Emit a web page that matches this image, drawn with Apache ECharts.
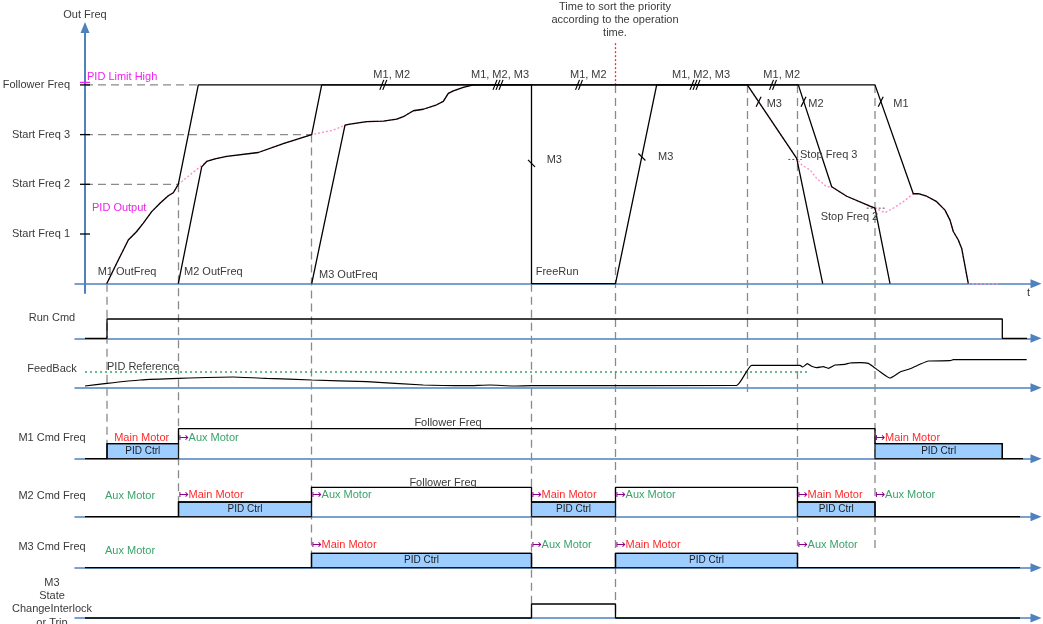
<!DOCTYPE html>
<html>
<head>
<meta charset="utf-8">
<title>Multi-motor PID timing</title>
<script src="https://cdn.jsdelivr.net/npm/echarts@6.0.0/dist/echarts.min.js"></script>
<style>
html, body { margin: 0; padding: 0; background: #fff; }
#chart { width: 1043px; height: 624px; }
</style>
</head>
<body>
<div id="chart"></div>
<script>
// ---- data: time in ticks, frequency in steps of Start Freq 1 ----
const freqLevels = [1, 2, 3, 4];
const freqNames = ['Start Freq 1', 'Start Freq 2', 'Start Freq 3', 'Follower Freq'];
const rowNames = ['Run Cmd', 'FeedBack', 'M1 Cmd Freq', 'M2 Cmd Freq', 'M3 Cmd Freq', 'M3\nState\nChangeInterlock\nor Trip'];

// event times
const tM1On = 22, tM2On = 93.5, tM3On = 226.5, tTrip = 446.5, tSort = 530.5;
const tM3Off = 662.5, tM2Off = 712.5, tM1Off = 790, tRunOff = 917.3;

const pidLimitHigh = 4.05, stopFreq3 = 2.5, stopFreq2 = 1.52, pidReference = 5.23;

// output frequency of each motor
const m1Out = [[21.7, 0], [31.7, 0.41], [43.3, 0.88], [51.7, 1.05], [58.3, 1.22], [66.7, 1.45], [75, 1.62], [83.3, 1.77], [88.3, 1.83], [93.3, 2.0],
  [113.3, 4.0], [790, 4.0], [828.3, 1.81], [833.3, 1.81], [841.7, 1.76], [851.7, 1.65], [860, 1.48], [865, 1.28], [868.3, 1.05], [873.3, 0.88], [876.7, 0.71], [883.3, 0]];
const m2Out = [[93.3, 0], [116.7, 2.35], [121.7, 2.46], [130, 2.51], [141.7, 2.56], [173.3, 2.64], [198.3, 2.82], [226.7, 3.0], [236.7, 4.0],
  [713.3, 4.0], [746.7, 1.95], [761.7, 1.76], [785, 1.56], [790, 1.52], [805, 0]];
const m3Out = [[226.7, 0], [260, 3.19], [265, 3.21], [281.7, 3.26], [298.3, 3.27], [311.7, 3.31], [318.3, 3.36], [328.3, 3.48], [338.3, 3.51], [351.7, 3.6],
  [358.3, 3.67], [363.3, 3.83], [368.3, 3.88], [378.3, 3.95], [388.3, 4.0], [446.5, 4.0], [446.5, 0], [530.5, 0], [571.7, 4.0], [662.3, 4.0], [711.7, 2.52], [737.7, 0]];
const pidOut = [[21.7, 0], [31.7, 0.41], [43.3, 0.88], [51.7, 1.05], [58.3, 1.22], [66.7, 1.45], [75, 1.62], [83.3, 1.77], [88.3, 1.83], [93.3, 2.0],
  [121.7, 2.46], [130, 2.51], [141.7, 2.56], [173.3, 2.64], [198.3, 2.82], [226.7, 3.0], [248.3, 3.09], [256.7, 3.16], [260, 3.19], [265, 3.21],
  [281.7, 3.26], [298.3, 3.27], [311.7, 3.31], [318.3, 3.36], [328.3, 3.48], [338.3, 3.51], [351.7, 3.6], [358.3, 3.67], [363.3, 3.83], [368.3, 3.88],
  [378.3, 3.95], [388.3, 4.0], [662.3, 4.0], [711.7, 2.52], [716.7, 2.39], [725, 2.29], [731.7, 2.12], [741.7, 1.95], [746.7, 1.95], [761.7, 1.76],
  [785, 1.56], [790, 1.52], [800, 1.43], [808.3, 1.52], [818.3, 1.65], [828.3, 1.81], [833.3, 1.81], [841.7, 1.76], [851.7, 1.65], [860, 1.48],
  [865, 1.28], [868.3, 1.05], [873.3, 0.88], [876.7, 0.71], [883.3, 0], [913.3, 0]];

// feedback signal
const feedback = [[0, 0.57], [22, 1.47], [55, 2.57], [93.7, 3.1], [148.3, 3.57], [181.7, 3.1], [226.7, 2.57], [281.7, 2.0], [338.3, 0.9], [381.7, 0.67],
  [405, 0.9], [428.3, 0.57], [446.5, 0.7], [651.7, 0.8], [666.7, 7.47], [715, 7.47], [717.7, 6.9], [722.3, 8.0], [726.7, 7.13], [731.7, 6.67],
  [738.3, 7.0], [743.3, 6.47], [750, 7.57], [760, 7.8], [765, 8.23], [775, 8.33], [783.3, 8.13], [788.3, 7.0], [795, 5.33], [805, 3.23],
  [815, 5.23], [825, 6.33], [835, 7.8], [843.3, 8.9], [865, 9.0], [868.3, 9.33], [941.7, 9.33]];

// digital / command rows: level 0 = off, 1 = PID ctrl, 2 = follower freq
const runTimes = [0, tM1On, tRunOff, 942];
const runLevels = [0, 1, 0];
const m1Times = [0, tM1On, tM2On, tM1Off, tRunOff, 938];
const m1Levels = [0, 1, 2, 1, 0];
const m2Times = [0, tM2On, tM3On, tTrip, tSort, tM2Off, tM1Off, 935];
const m2Levels = [0, 1, 2, 1, 2, 1, 0];
const m3Times = [0, tM3On, tTrip, tSort, tM2Off, 935];
const m3Levels = [0, 1, 0, 1, 0];
const tripTimes = [0, tTrip, tSort, 935];
const tripLevels = [0, 1, 0];

// ---- layout ----
const FONT = "'Liberation Sans', Arial, sans-serif";
const TEXT = '#3a3a3a', BLUE = '#4f81bd', GREY = '#8a8a8a', RED = '#ff2a2a', GREEN = '#3aa36b', PURPLE = '#8b008b', MAGENTA = '#ee22ee', PINK = '#ff8fc8';
const X_MIN = -10, X_MAX = 951;
const TOP = { axisY: 283.7, scale: 49.7, min: -0.187, max: 5.155 };
const ROWS = [
  { axisY: 338.3, scale: 19.3, max: 2, labelAt: 1.04 },
  { axisY: 387.7, scale: 3, max: 10, labelAt: 6.13 },
  { axisY: 458.7, scale: 15, max: 3, labelAt: 1.36 },
  { axisY: 516.7, scale: 14.7, max: 3, labelAt: 1.41 },
  { axisY: 567.7, scale: 14.4, max: 3, labelAt: 1.42 },
  { axisY: 618, scale: 14, max: 2, labelAt: 1.09 }
];
const H = 624;

// value in the top panel that lines up with a level of a lower row
const topF = (row, level) => (TOP.axisY - (ROWS[row].axisY - level * ROWS[row].scale)) / TOP.scale;

const grids = [{ left: 75, right: 7, top: TOP.axisY - TOP.max * TOP.scale, bottom: H - (TOP.axisY - TOP.min * TOP.scale), outerBoundsMode: 'none' }]
  .concat(ROWS.map(r => ({ left: 75, right: 7, top: r.axisY - r.max * r.scale, bottom: H - r.axisY, outerBoundsMode: 'none' })));

const xAxes = grids.map((g, i) => ({
  type: 'value', gridIndex: i, min: X_MIN, max: X_MAX,
  axisLine: { show: true, onZero: i === 0, symbol: ['none', 'triangle'], symbolSize: [9, 11], lineStyle: { color: BLUE, width: 1.5 } },
  axisTick: { show: false }, axisLabel: { show: false }, splitLine: { show: false }
}));

const yAxes = [{
  type: 'value', gridIndex: 0, min: TOP.min, max: TOP.max,
  name: 'Out Freq', nameLocation: 'end', nameGap: 7,
  nameTextStyle: { color: TEXT, fontSize: 11, fontFamily: FONT },
  axisLine: { show: true, onZero: true, symbol: ['none', 'triangle'], symbolSize: [9, 11], lineStyle: { color: BLUE, width: 2 } },
  axisTick: { show: false },
  axisLabel: { customValues: freqLevels, formatter: v => freqNames[freqLevels.indexOf(v)], margin: 5, color: TEXT, fontSize: 11, fontFamily: FONT },
  splitLine: { show: false }
}].concat(ROWS.map((r, i) => ({
  type: 'value', gridIndex: i + 1, min: 0, max: r.max,
  axisLine: { show: false }, axisTick: { show: false }, splitLine: { show: false },
  axisLabel: { customValues: [r.labelAt], formatter: () => rowNames[i], align: 'center', margin: 23, color: TEXT, fontSize: 11, fontFamily: FONT, lineHeight: 13.3 }
})));

// ---- helpers ----
function lineSeries(grid, data, color, width, dash, z) {
  return { type: 'line', xAxisIndex: grid, yAxisIndex: grid, data: data, showSymbol: false, silent: true, clip: false, z: z || 4,
    lineStyle: { color: color, width: width, type: dash || 'solid' } };
}

function stepData(times, levels) {
  const pts = [];
  levels.forEach((l, i) => { pts.push([times[i], l], [times[i + 1], l]); });
  return pts;
}

function segmentSeries(grid, segs, style, z) {
  return { type: 'custom', xAxisIndex: grid, yAxisIndex: grid, silent: true, clip: false, z: z || 2,
    data: segs,
    renderItem: (params, api) => {
      const s = segs[params.dataIndex];
      const a = api.coord([s[0], s[1]]), b = api.coord([s[2], s[3]]);
      return { type: 'line', shape: { x1: a[0], y1: a[1], x2: b[0], y2: b[1] }, style: Object.assign({ stroke: '#000', lineWidth: 1 }, style) };
    } };
}

function boxSeries(grid, times, levels) {
  const boxes = [];
  levels.forEach((l, i) => { if (l === 1) boxes.push([times[i], times[i + 1]]); });
  return { type: 'custom', xAxisIndex: grid, yAxisIndex: grid, silent: true, z: 3,
    data: boxes,
    renderItem: (params, api) => {
      const bx = boxes[params.dataIndex];
      const a = api.coord([bx[0], 1]), b = api.coord([bx[1], 0]);
      return { type: 'rect', shape: { x: a[0], y: a[1], width: b[0] - a[0], height: b[1] - a[1] },
        style: { fill: '#9dceff', stroke: '#1a1a1a', lineWidth: 1.3 },
        textContent: { style: { text: 'PID Ctrl', fill: '#1a1a1a', font: '10px ' + FONT } },
        textConfig: { position: 'inside' } };
    } };
}

function textSeries(grid, notes) {
  return { type: 'custom', xAxisIndex: grid, yAxisIndex: grid, silent: true, clip: false, z: 10,
    data: notes.map(n => [n[0], n[1]]),
    renderItem: (params, api) => {
      const n = notes[params.dataIndex];
      const p = api.coord([n[0], n[1]]);
      const o = n[3] || {};
      const style = { text: n[2], fill: o.color || TEXT, font: '11px ' + FONT, align: o.align || 'left', verticalAlign: 'middle', lineHeight: 13 };
      if (o.arrow) {
        style.text = '{a|\u21a6}{b|' + n[2] + '}';
        style.rich = { a: { fill: PURPLE, font: '12px "DejaVu Sans"' }, b: { fill: o.color, font: '11px ' + FONT } };
      }
      return { type: 'text', x: p[0], y: p[1], style: style };
    } };
}

const markKinds = { slash: [2, 5], back: [-3.5, 3.5], cross: [2.5, 5] };
function markSeries(grid, marks) {
  return { type: 'custom', xAxisIndex: grid, yAxisIndex: grid, silent: true, clip: false, z: 6,
    data: marks.map(m => [m[0], m[1]]),
    renderItem: (params, api) => {
      const m = marks[params.dataIndex];
      const p = api.coord([m[0], m[1]]);
      const k = markKinds[m[3]];
      const children = [];
      for (let i = 0; i < m[2]; i++) {
        const dx = (i - (m[2] - 1) / 2) * 3;
        children.push({ type: 'line', shape: { x1: p[0] + dx - k[0], y1: p[1] + k[1], x2: p[0] + dx + k[0], y2: p[1] - k[1] },
          style: { stroke: '#000', lineWidth: 1.2 } });
      }
      return { type: 'group', children: children };
    } };
}

// ---- annotations ----
const topNotes = [
  [2, 4.16, 'PID Limit High', { color: MAGENTA }],
  [7, 1.52, 'PID Output', { color: MAGENTA }],
  [12.7, 0.24, 'M1 OutFreq'],
  [99, 0.24, 'M2 OutFreq'],
  [234, 0.18, 'M3 OutFreq'],
  [450.7, 0.24, 'FreeRun'],
  [306.7, 4.19, 'M1, M2', { align: 'center' }],
  [415, 4.19, 'M1, M2, M3', { align: 'center' }],
  [503.3, 4.19, 'M1, M2', { align: 'center' }],
  [616, 4.19, 'M1, M2, M3', { align: 'center' }],
  [696.7, 4.19, 'M1, M2', { align: 'center' }],
  [461.7, 2.49, 'M3'],
  [573, 2.55, 'M3'],
  [681.7, 3.62, 'M3'],
  [723.3, 3.62, 'M2'],
  [808.3, 3.62, 'M1'],
  [715, 2.6, 'Stop Freq 3'],
  [735.7, 1.35, 'Stop Freq 2'],
  [530, 5.31, 'Time to sort the priority\naccording to the operation\ntime.', { align: 'center' }],
  [942, -0.19, 't']
];
const topMarks = [[298.3, 4, 2, 'slash'], [413, 4, 3, 'slash'], [494, 4, 2, 'slash'], [610, 4, 3, 'slash'], [688, 4, 2, 'slash'],
  [446.5, 2.42, 1, 'back'], [556.9, 2.55, 1, 'back'], [673.6, 3.66, 1, 'cross'], [718.5, 3.66, 1, 'cross'], [795.7, 3.66, 1, 'cross']];

const fbNotes = [[22, 7.0, 'PID Reference']];
const m1Notes = [
  [56.7, 1.4, 'Main Motor', { color: RED, align: 'center' }],
  [tM2On, 1.4, 'Aux Motor', { color: GREEN, arrow: true }],
  [363, 2.36, 'Follower Freq', { align: 'center' }],
  [tM1Off, 1.4, 'Main Motor', { color: RED, arrow: true }]
];
const m2Notes = [
  [20, 1.41, 'Aux Motor', { color: GREEN }],
  [tM2On, 1.48, 'Main Motor', { color: RED, arrow: true }],
  [358, 2.31, 'Follower Freq', { align: 'center' }],
  [tM3On, 1.48, 'Aux Motor', { color: GREEN, arrow: true }],
  [tTrip, 1.48, 'Main Motor', { color: RED, arrow: true }],
  [tSort, 1.48, 'Aux Motor', { color: GREEN, arrow: true }],
  [tM2Off, 1.48, 'Main Motor', { color: RED, arrow: true }],
  [tM1Off, 1.48, 'Aux Motor', { color: GREEN, arrow: true }]
];
const m3Notes = [
  [20, 1.16, 'Aux Motor', { color: GREEN }],
  [tM3On, 1.56, 'Main Motor', { color: RED, arrow: true }],
  [tTrip, 1.56, 'Aux Motor', { color: GREEN, arrow: true }],
  [tSort, 1.56, 'Main Motor', { color: RED, arrow: true }],
  [tM2Off, 1.56, 'Aux Motor', { color: GREEN, arrow: true }]
];

// dashed guides
const hGuides = [[0, 4, 113.3, 4], [0, 3, 226.7, 3], [0, 2, 93.3, 2]];
const vGuides = [
  [tM1On, 0, tM1On, topF(2, 1)],
  [tM2On, 2, tM2On, topF(3, 1)],
  [tM3On, 3, tM3On, topF(4, 1)],
  [tTrip, 0, tTrip, topF(5, 0)],
  [tSort, 4, tSort, topF(5, 0)],
  [tM3Off, 4, tM3Off, topF(1, -1.5)],
  [tM2Off, 4, tM2Off, topF(4, 1.5)],
  [tM1Off, 4, tM1Off, topF(4, 1.1)]
];
const ticks = freqLevels.map(l => [-5, l, 5, l]);

const series = [
  segmentSeries(0, hGuides.concat(vGuides), { stroke: GREY, lineWidth: 1.3, lineDash: [8, 5] }, 1),
  segmentSeries(0, [[tSort, 4.84, tSort, 4]], { stroke: RED, lineWidth: 1.3, lineDash: [2, 2] }, 2),
  segmentSeries(0, ticks, { stroke: '#000', lineWidth: 1.3 }, 5),
  segmentSeries(0, [[-5, pidLimitHigh, 5, pidLimitHigh]], { stroke: MAGENTA, lineWidth: 1.3 }, 6),
  segmentSeries(0, [[703.3, stopFreq3, 716.7, stopFreq3], [781.7, stopFreq2, 801.7, stopFreq2]], { stroke: '#555', lineWidth: 1, lineDash: [2, 2] }, 2),
  lineSeries(0, pidOut, PINK, 1.4, [2, 2], 3),
  lineSeries(0, m1Out, '#000', 1.3),
  lineSeries(0, m2Out, '#000', 1.3),
  lineSeries(0, m3Out, '#000', 1.3),
  markSeries(0, topMarks),
  textSeries(0, topNotes),

  lineSeries(1, stepData(runTimes, runLevels), '#000', 1.3),

  segmentSeries(2, [[0, pidReference, 722.3, pidReference]], { stroke: GREEN, lineWidth: 1.6, lineDash: [2, 3] }, 2),
  Object.assign(lineSeries(2, feedback, '#000', 1.2), { smooth: 0.15 }),
  textSeries(2, fbNotes),

  lineSeries(3, stepData(m1Times, m1Levels), '#000', 1.3),
  boxSeries(3, m1Times, m1Levels),
  textSeries(3, m1Notes),

  lineSeries(4, stepData(m2Times, m2Levels), '#000', 1.3),
  boxSeries(4, m2Times, m2Levels),
  textSeries(4, m2Notes),

  lineSeries(5, stepData(m3Times, m3Levels), '#000', 1.3),
  boxSeries(5, m3Times, m3Levels),
  textSeries(5, m3Notes),

  lineSeries(6, stepData(tripTimes, tripLevels), '#000', 1.3)
];

const chart = echarts.init(document.getElementById('chart'));
chart.setOption({
  backgroundColor: '#fff',
  animation: false,
  grid: grids,
  xAxis: xAxes,
  yAxis: yAxes,
  series: series
});
</script>
</body>
</html>
